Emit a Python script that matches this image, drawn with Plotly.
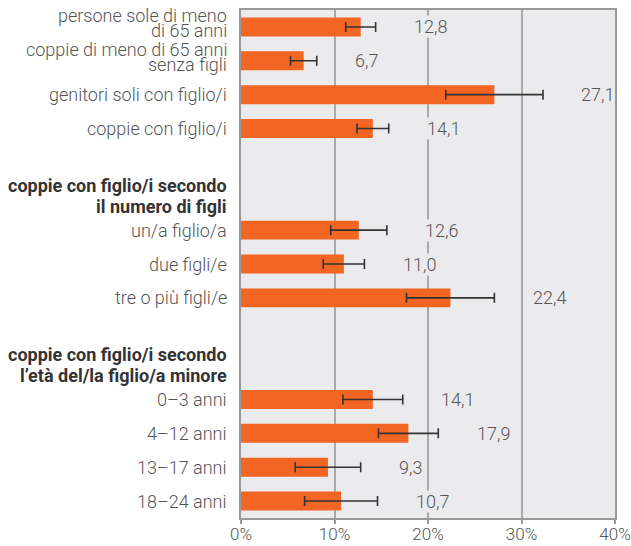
import plotly.graph_objects as go

# ---- data ----
group_titles = [
    "",
    "coppie con figlio/i secondo<br>il numero di figli",
    "coppie con figlio/i secondo<br>l’età del/la figlio/a minore",
]
group_categories = [
    ["persone sole di meno<br>di 65 anni", "coppie di meno di 65 anni<br>senza figli",
     "genitori soli con figlio/i", "coppie con figlio/i"],
    ["un/a figlio/a", "due figli/e", "tre o più figli/e"],
    ["0–3 anni", "4–12 anni", "13–17 anni", "18–24 anni"],
]
group_values = [
    [12.8, 6.7, 27.1, 14.1],
    [12.6, 11.0, 22.4],
    [14.1, 17.9, 9.3, 10.7],
]
group_errors = [
    [1.6, 1.4, 5.2, 1.7],
    [3.0, 2.2, 4.7],
    [3.2, 3.2, 3.5, 3.9],
]
x_tickvals = [0, 10, 20, 30, 40]
x_ticktext = ["0%", "10%", "20%", "30%", "40%"]

# ---- rows (a heading takes two rows: a blank one and the title) ----
cats, vals, errs, ypos, heads = [], [], [], [], []
row = 0
for title, c, v, e in zip(group_titles, group_categories, group_values, group_errors):
    if title:
        row += 1
        heads.append((row, title))
        row += 1
    for ci, vi, ei in zip(c, v, e):
        cats.append(ci); vals.append(vi); errs.append(ei); ypos.append(row)
        row += 1
n_rows = row

FONT = "Roboto"
TXT = "#555555"
BG = "#EBEBEE"
ORANGE = "#F26522"
FS = 18

fig = go.Figure()
fig.add_trace(go.Bar(
    x=vals, y=ypos, orientation="h",
    marker=dict(color=ORANGE, line=dict(width=0)),
    width=0.56,
    error_x=dict(type="data", array=errs, visible=True, color="#333333", thickness=1.6, width=5),
    hoverinfo="skip",
))

annotations = []
# value labels
for v, e, y in zip(vals, errs, ypos):
    annotations.append(dict(
        x=v + e + 4, y=y, xref="x", yref="y", xanchor="left", yanchor="middle",
        text=f"{v:.1f}".replace(".", ","), showarrow=False,
        font=dict(family=FONT, size=FS, color=TXT, weight=300), bgcolor=BG, borderpad=0,
    ))
# category labels (tight line spacing)
for c, y in zip(cats, ypos):
    lines = c.split("<br>")
    shifts = [0] if len(lines) == 1 else [11, -4]
    for l, s in zip(lines, shifts):
        annotations.append(dict(
            x=0, y=y, xref="paper", yref="y", xanchor="right", yanchor="middle",
            xshift=-12, yshift=s, text=l, showarrow=False,
            font=dict(family=FONT, size=FS, color=TXT, weight=300),
        ))
# group headings
for y, t in heads:
    for l, s in zip(t.split("<br>"), [11, -10]):
        annotations.append(dict(
            x=0, y=y, xref="paper", yref="y", xanchor="right", yanchor="middle",
            xshift=-12, yshift=s, text=f"<b>{l}</b>", showarrow=False,
            font=dict(family=FONT, size=FS, color="#333333"),
        ))

fig.update_layout(
    width=631, height=546,
    margin=dict(l=241, r=16, t=10, b=28),
    paper_bgcolor="white", plot_bgcolor=BG,
    showlegend=False,
    font=dict(family=FONT, size=FS, color=TXT, weight=300),
    annotations=annotations,
)
fig.update_xaxes(
    range=[0, 40], tickvals=x_tickvals, ticktext=x_ticktext,
    showgrid=True, gridcolor="#AAAAAA", gridwidth=1.5,
    showline=True, linecolor="#999999", linewidth=2, mirror=True,
    ticks="outside", ticklen=4, tickcolor="#999999", tickwidth=1.5,
    ticklabelstandoff=-4,
    tickfont=dict(family=FONT, size=17, color=TXT, weight=300), zeroline=False,
    automargin=False,
)
fig.update_yaxes(
    range=[n_rows - 0.5, -0.5], showticklabels=False,
    showgrid=False, zeroline=False,
    showline=True, linecolor="#999999", linewidth=2, mirror=True,
    ticks="", automargin=False,
)

fig.write_html("out.html", config={"displayModeBar": False},
               post_script="document.body.style.margin='0';")
